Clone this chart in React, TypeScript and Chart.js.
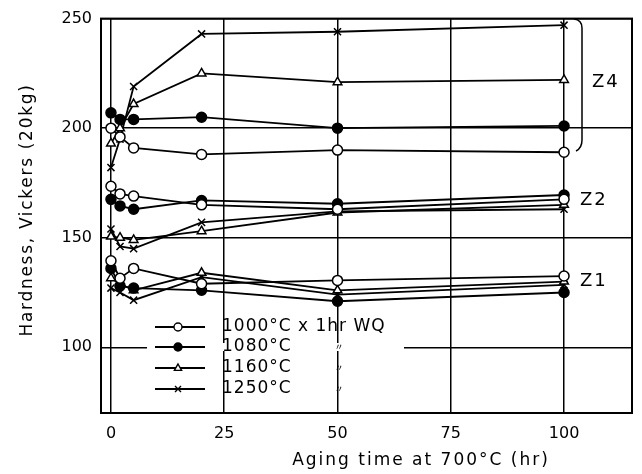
import { useEffect, useRef } from 'react';
import { Chart, registerables } from 'chart.js';

Chart.register(...registerables);

const hours = [0, 2, 5, 20, 50, 100];
const tempLabels = ['1000°C', '1080°C', '1160°C', '1250°C'];
const legendLabels = ['1000°C x 1hr WQ', '1080°C', '1160°C', '1250°C'];
const groupLabels = ['Z4', 'Z2', 'Z1'];
const xTicks = [0, 25, 50, 75, 100];
const yTicks = [100, 150, 200, 250];

// Z4 alloy
const z4T1000 = [200, 196, 191, 188, 190, 189];
const z4T1080 = [207, 204, 204, 205, 200, 201];
const z4T1160 = [193, 200, 211, 225, 221, 222];
const z4T1250 = [182, 195, 219, 243, 244, 247];
// Z2 alloy
const z2T1000 = [173.5, 170, 169, 165, 163, 167.5];
const z2T1080 = [167.5, 164.5, 163, 167, 165.5, 169.5];
const z2T1160 = [150.5, 150, 149, 153, 161.5, 165];
const z2T1250 = [154, 146, 145, 157, 162, 163];
// Z1 alloy
const z1T1000 = [139.5, 131.5, 136, 129, 130.5, 132.5];
const z1T1080 = [136, 128, 127, 126, 121, 125];
const z1T1160 = [131.5, 129, 126, 134, 126, 130];
const z1T1250 = [127, 125, 121.5, 132, 124, 128.5];

const groups = [
  [z4T1000, z4T1080, z4T1160, z4T1250],
  [z2T1000, z2T1080, z2T1160, z2T1250],
  [z1T1000, z1T1080, z1T1160, z1T1250],
];

const FONT = '"DejaVu Sans", sans-serif';

const markerStyles: any[] = [
  { pointStyle: 'circle', bg: '#fff' },
  { pointStyle: 'circle', bg: '#000' },
  { pointStyle: 'triangle', bg: '#fff' },
  { pointStyle: 'crossRot', bg: '#000' },
];

function drawMarker(ctx: CanvasRenderingContext2D, i: number, x: number, y: number, r: number) {
  ctx.save();
  ctx.strokeStyle = '#000';
  ctx.lineWidth = 1.4;
  ctx.beginPath();
  if (i === 0 || i === 1) {
    ctx.arc(x, y, r, 0, Math.PI * 2);
    ctx.fillStyle = i === 0 ? '#fff' : '#000';
    ctx.fill();
    ctx.stroke();
  } else if (i === 2) {
    ctx.moveTo(x, y - r);
    ctx.lineTo(x + r * 0.9, y + r * 0.6);
    ctx.lineTo(x - r * 0.9, y + r * 0.6);
    ctx.closePath();
    ctx.fillStyle = '#fff';
    ctx.fill();
    ctx.stroke();
  } else {
    const d = r * 0.75;
    ctx.moveTo(x - d, y - d);
    ctx.lineTo(x + d, y + d);
    ctx.moveTo(x + d, y - d);
    ctx.lineTo(x - d, y + d);
    ctx.stroke();
  }
  ctx.restore();
}

const decorPlugin = {
  id: 'decor',
  beforeDatasetsDraw(chart: any) {
    const ctx = chart.ctx as CanvasRenderingContext2D;
    ctx.save();
    ctx.fillStyle = '#fff';
    ctx.fillRect(147, 343, 257, 8);
    ctx.restore();
  },
  afterDraw(chart: any) {
    const ctx = chart.ctx as CanvasRenderingContext2D;
    const a = chart.chartArea;
    ctx.save();
    // frame
    ctx.strokeStyle = '#000';
    ctx.lineWidth = 2;
    ctx.strokeRect(a.left, a.top, a.right - a.left, a.bottom - a.top);

    // legend
    const rows = [327, 347, 368, 389];
    ctx.font = `17px ${FONT}`;
    ctx.textBaseline = 'middle';
    ctx.fillStyle = '#000';
    rows.forEach((y, i) => {
      ctx.beginPath();
      ctx.lineWidth = 1.8;
      ctx.moveTo(155, y);
      ctx.lineTo(205, y);
      ctx.stroke();
      drawMarker(ctx, i, 178, y, 4);
      ctx.textAlign = 'left';
      (ctx as any).letterSpacing = '1px';
      ctx.fillText(legendLabels[i], 222, y);
      (ctx as any).letterSpacing = '0px';
      if (i > 0) {
        ctx.save();
        ctx.font = `9px "Noto Sans CJK JP", ${FONT}`;
        ctx.textAlign = 'center';
        ctx.fillText('〃', 339, y);
        ctx.restore();
      }
    });

    // group labels
    ctx.font = `18px ${FONT}`;
    ctx.textAlign = 'left';
    (ctx as any).letterSpacing = '2px';
    ctx.fillText(groupLabels[0], 592, 82);
    ctx.fillText(groupLabels[1], 580, 200);
    ctx.fillText(groupLabels[2], 580, 281);

    // bracket for Z4
    ctx.beginPath();
    ctx.lineWidth = 1.5;
    ctx.moveTo(574, 19);
    ctx.quadraticCurveTo(582, 20, 582, 28);
    ctx.lineTo(582, 140);
    ctx.quadraticCurveTo(582, 148, 576, 151);
    ctx.stroke();

    // axis titles
    ctx.font = `17px ${FONT}`;
    ctx.textAlign = 'center';
    (ctx as any).letterSpacing = '2px';
    ctx.fillText('Aging time at 700°C (hr)', 421, 461);
    ctx.translate(28, 210);
    ctx.rotate(-Math.PI / 2);
    (ctx as any).letterSpacing = '1.7px';
    ctx.fillText('Hardness, Vickers (20kg)', 0, 0);
    ctx.restore();
  },
};

export default function App() {
  const ref = useRef<HTMLCanvasElement>(null);
  useEffect(() => {
    document.body.style.margin = '0';
    const datasets: any[] = [];
    groups.forEach((g, gi) => {
      g.forEach((vals, ti) => {
        datasets.push({
          label: `${groupLabels[gi]} ${tempLabels[ti]}`,
          data: hours.map((h, k) => ({ x: h, y: vals[k] })),
          borderColor: '#000',
          borderWidth: 1.8,
          pointStyle: markerStyles[ti].pointStyle,
          pointBackgroundColor: markerStyles[ti].bg,
          pointBorderColor: '#000',
          pointBorderWidth: 1.5,
          pointRadius: 5,
          tension: 0,
          fill: false,
        });
      });
    });
    const chart = new Chart(ref.current!, {
      type: 'line',
      data: { datasets },
      options: {
        animation: false,
        responsive: false,
        layout: { padding: { top: 14, right: 10, left: 0, bottom: 0 } },
        plugins: { legend: { display: false }, tooltip: { enabled: false } },
        scales: {
          x: {
            type: 'linear',
            min: -2.2,
            max: 115,
            afterBuildTicks: (s: any) => { s.ticks = xTicks.map((v) => ({ value: v })); },
            afterFit: (s: any) => { s.height = 61; },
            grid: { color: '#000', lineWidth: 1.5, drawTicks: false },
            border: { display: true, color: '#000', width: 2 },
            ticks: { color: '#000', font: { family: FONT, size: 16 }, padding: 11, maxRotation: 0 },
          },
          y: {
            type: 'linear',
            min: 70,
            max: 250,
            afterBuildTicks: (s: any) => { s.ticks = yTicks.map((v) => ({ value: v })); },
            afterFit: (s: any) => { s.width = 101; },
            grid: { color: '#000', lineWidth: 1.5, drawTicks: false },
            border: { display: true, color: '#000', width: 2 },
            ticks: { color: '#000', font: { family: FONT, size: 16 }, padding: 9 },
          },
        },
      },
      plugins: [decorPlugin],
    });
    return () => chart.destroy();
  }, []);
  return (
    <div style={{ width: 642, height: 474, background: '#fff' }}>
      <canvas ref={ref} width={642} height={474} />
    </div>
  );
}
